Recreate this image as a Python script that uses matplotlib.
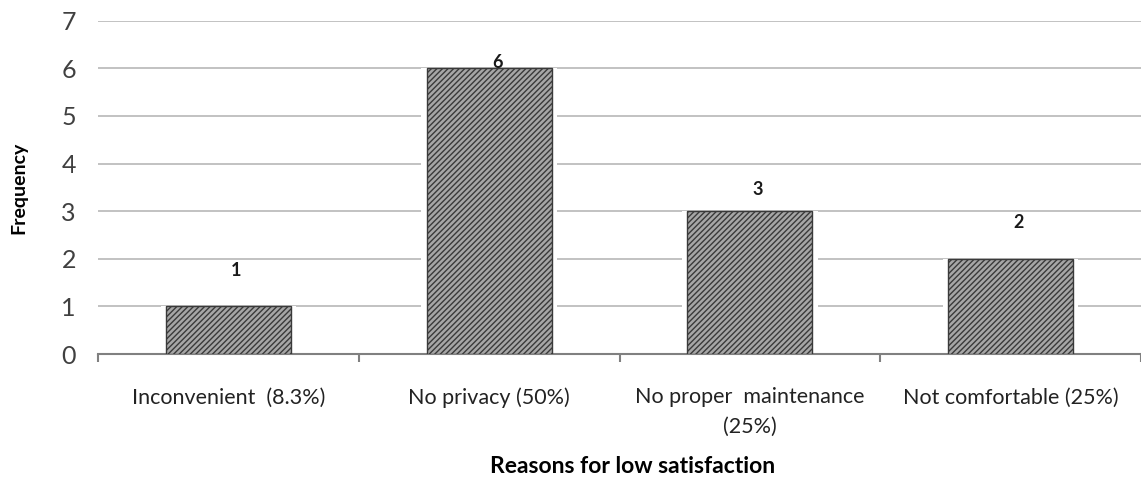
import numpy as np
import matplotlib.pyplot as plt

categories = ["Inconvenient  (8.3%)", "No privacy (50%)", "No proper  maintenance\n(25%)", "Not comfortable (25%)"]
freq = [1, 6, 3, 2]
label_y = [1.76, 6.13, 3.45, 2.77]   # where the value labels sit in the picture

plt.rcParams['font.family'] = ['Lato', 'DejaVu Sans']
plt.rcParams['hatch.color'] = '#3a3a3a'
plt.rcParams['hatch.linewidth'] = 1.0

fig = plt.figure(figsize=(11.41, 4.83), dpi=100)
ax = fig.add_axes([0.086, 0.267, 0.914, 0.69])

x = np.arange(len(categories))
ax.bar(x, freq, width=0.48, color='#a6a6a6', edgecolor='#3a3a3a', hatch='//////',
       linewidth=1.0, zorder=3)

# white gap in gridlines around each bar
for xi, v in zip(x, freq):
    ax.bar(xi, v, width=0.52, color='white', edgecolor='none', zorder=2)

for xi, v, ly in zip(x, freq, label_y):
    ax.text(xi + 0.03, ly, str(v), ha='center', va='center', fontsize=13,
            fontweight='bold', color='#1a1a1a', zorder=4)

ax.set_xlim(-0.5, len(categories) - 0.5)
ax.set_ylim(0, 7)
ax.set_yticks(range(8))
ax.yaxis.grid(True, color='#b8b8b8', linewidth=1.2, zorder=1)
ax.set_axisbelow(True)

ax.set_xticks(x)
ax.set_xticklabels(categories, fontsize=15.5, color='#222222', linespacing=1.6)
ax.set_xticks(np.arange(-0.5, len(categories), 1), minor=True)
ax.tick_params(axis='x', which='major', length=0, pad=24)
ax.tick_params(axis='x', which='minor', length=6, width=1.5, color='#808080')
ax.tick_params(axis='y', length=0, labelsize=18, labelcolor='#404040', pad=16)

for s in ['top', 'right', 'left']:
    ax.spines[s].set_visible(False)
ax.spines['bottom'].set_color('#808080')
ax.spines['bottom'].set_linewidth(1.5)

ax.set_ylabel('Frequency', fontsize=14, fontweight='bold')
ax.yaxis.set_label_coords(-0.068, 0.5)
ax.set_xlabel('Reasons for low satisfaction', fontsize=16.5, fontweight='bold')
ax.xaxis.set_label_coords(0.512, -0.305)

fig.savefig('out.png', dpi=100)
